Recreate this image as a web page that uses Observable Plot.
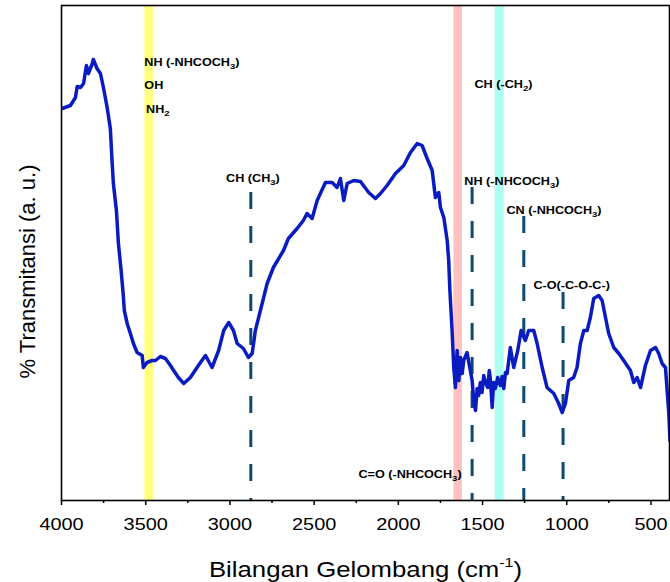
<!DOCTYPE html>
<html>
<head>
<meta charset="utf-8">
<script src="https://cdn.jsdelivr.net/npm/d3@7"></script>
<script src="https://cdn.jsdelivr.net/npm/@observablehq/plot@0.6"></script>
<style>
  html, body { margin: 0; padding: 0; background: #fff; overflow: hidden; }
  #chart { width: 670px; height: 582px; }
</style>
</head>
<body>
<div id="chart"></div>
<script>
// ---- data (transmittance in arbitrary units) ----
const wavenumber = [3996,3947,3917,3907,3887,3869,3852,3840,3817,3811,
  3789,3769,3751,3729,3710,3700,3692,3674,3662,3646,
  3634,3627,3610,3591,3573,3551,3521,3514,3492,3462,
  3442,3413,3383,3353,3334,3306,3274,3235,3175,3145,
  3106,3067,3037,3007,2979,2957,2920,2890,2868,2849,
  2819,2779,2742,2682,2653,2601,2564,2542,2512,2482,
  2433,2393,2364,2344,2324,2304,2265,2225,2176,2136,
  2106,2067,2017,1968,1928,1888,1859,1829,1799,1780,
  1760,1750,1730,1710,1701,1694,1681,1671,1661,1651,
  1641,1631,1621,1612,1592,1576,1562,1552,1542,1532,
  1523,1513,1503,1493,1483,1469,1460,1453,1443,1434,
  1424,1410,1394,1384,1374,1364,1354,1335,
  1315,1291,1271,1246,1226,1196,1176,1146,1117,1077,
  1048,1027,1008,988,959,939,919,899,879,860,
  840,810,790,770,751,721,691,662,622,602,
  582,562,533,503,473,454,434,414,394,387];
const transmittance = [392,395,403,414,413,417,435,427,437,441,
  432,427,413,393,372,340,317,290,257,230,
  207,190,177,167,157,148,145,133,138,140,
  140,144,142,135,130,123,117,123,138,145,
  133,150,170,178,170,157,152,143,147,170,
  190,217,233,250,262,272,280,287,282,300,
  318,318,313,322,300,317,320,319,308,302,
  307,315,327,335,348,357,355,342,330,303,
  308,293,283,260,240,210,170,133,113,150,
  120,143,127,140,148,133,120,100,90,112,
  105,118,108,125,118,113,130,120,93,118,
  112,123,115,124,112,128,127,153,
  133,150,170,160,170,170,157,133,113,107,
  97,88,97,120,123,133,157,170,170,183,
  202,205,200,183,167,153,147,140,130,118,
  123,113,135,150,153,147,137,133,87,60];

// highlighted bands (wavenumber ranges)
const bandFrom = [3505, 1670, 1425];
const bandTo   = [3452, 1620, 1372];

// dashed peak markers
const peakWavenumber = [2876, 1562, 1255, 1022];
const peakTop        = [308, 313, 284, 208];

// annotation labels
const annoText = ["NH (-NHCOCH_{3})", "OH", "NH_{2}", "CH (CH_{3})", "CH (-CH_{2})",
                  "NH (-NHCOCH_{3})", "CN (-NHCOCH_{3})", "C-O(-C-O-C-)", "C=O (-NHCOCH_{3})"];
const annoW = [3508, 3508, 3498, 3023, 1548, 1608, 1358, 1198, 2237];
const annoT = [435, 412, 388, 319, 413, 316, 287, 212, 23];

// axis ticks
const xTicks = [4000, 3500, 3000, 2500, 2000, 1500, 1000, 500];
const xMinorTicks = [3750, 3250, 2750, 2250, 1750, 1250, 750];
const xDomain = [4000, 390];
const yDomain = [0, 495];
const xTitle = "Bilangan Gelombang (cm^{-1})";
const yTitle = "% Transmitansi (a. u.)";

// ---- tables ----
const spectrum = wavenumber.map((w, i) => ({w, t: transmittance[i]}));
const bands = bandFrom.map((a, i) => ({from: a, to: bandTo[i]}));
const peaks = peakWavenumber.map((w, i) => ({w, top: peakTop[i]}));
const annos = annoText.map((s, i) => ({s, w: annoW[i], t: annoT[i]}));
const bandFill = ["#ffff80", "#ffc0c0", "#aafff0"];

const plot = Plot.plot({
  width: 670,
  height: 582,
  marginLeft: 61,
  marginRight: 1,
  marginTop: 5,
  marginBottom: 82,
  style: {fontFamily: "'Liberation Sans', Arial, sans-serif", fontSize: "17px", color: "#000", background: "#fff"},
  x: {domain: xDomain, range: [61, 669]},
  y: {domain: yDomain, axis: null},
  color: {type: "identity"},
  marks: [
    Plot.rect(bands, {x1: "from", x2: "to", fill: (d, i) => bandFill[i]}),
    Plot.ruleX(peaks, {x: "w", y1: "top", y2: 0, stroke: "#0d4a6e", strokeWidth: 3, strokeDasharray: "17,17"}),
    Plot.line(spectrum, {x: "w", y: "t", stroke: "#0a1cc0", strokeWidth: 3.5, strokeLinejoin: "round", clip: true}),
    Plot.text(annos, {x: "w", y: "t", text: "s", textAnchor: "start", lineAnchor: "bottom",
      fontSize: 10.8, fontWeight: "bold", fill: "#000"}),
    Plot.frame({stroke: "#000", strokeWidth: 1.6}),
    Plot.axisX({ticks: xTicks, tickSize: 5, tickPadding: 12, tickFormat: d => String(d), label: null, strokeWidth: 1.5}),
    Plot.axisX({ticks: xMinorTicks, tickSize: 3, tickFormat: () => "", label: null, strokeWidth: 1.5}),
    Plot.text([xTitle], {frameAnchor: "bottom", dy: 76, lineAnchor: "bottom", textAnchor: "middle", fontSize: 22, fill: "#000"}),
    Plot.text([yTitle], {frameAnchor: "left", rotate: -90, dx: -27, dy: 18.5, lineAnchor: "bottom", textAnchor: "middle", fontSize: 22, fill: "#000"})
  ]
});
document.getElementById("chart").appendChild(plot);

// ---- post-processing: sub/superscripts and the reference's horizontal stretch ----
const NS = "http://www.w3.org/2000/svg";
const STRETCH = 1.17;
function rich(t) {
  const s = t.textContent;
  if (!/[_^]\{/.test(s)) return;
  const fs = parseFloat(getComputedStyle(t).fontSize) || 12;
  const parts = s.split(/([_^]\{[^}]*\})/);
  t.textContent = "";
  let shift = 0;
  for (const p of parts) {
    if (!p) continue;
    const ts = document.createElementNS(NS, "tspan");
    let target = 0, txt = p;
    if (p[0] === "_") { target = 0.32 * fs; txt = p.slice(2, -1); ts.setAttribute("font-size", (0.75 * fs).toFixed(2)); }
    else if (p[0] === "^") { target = -0.42 * fs; txt = p.slice(2, -1); ts.setAttribute("font-size", (0.62 * fs).toFixed(2)); }
    const dy = target - shift;
    if (dy) ts.setAttribute("dy", dy.toFixed(2));
    shift = target;
    ts.textContent = txt;
    t.appendChild(ts);
  }
}
function stretch(t) {
  const tr = t.getAttribute("transform") || "";
  if (/rotate/.test(tr)) return;
  const x = parseFloat(t.getAttribute("x") || 0) || 0;
  t.setAttribute("transform", `${tr} translate(${x},0) scale(${STRETCH},1) translate(${-x},0)`);
}
plot.querySelectorAll("text").forEach(t => { rich(t); stretch(t); });
</script>
</body>
</html>
